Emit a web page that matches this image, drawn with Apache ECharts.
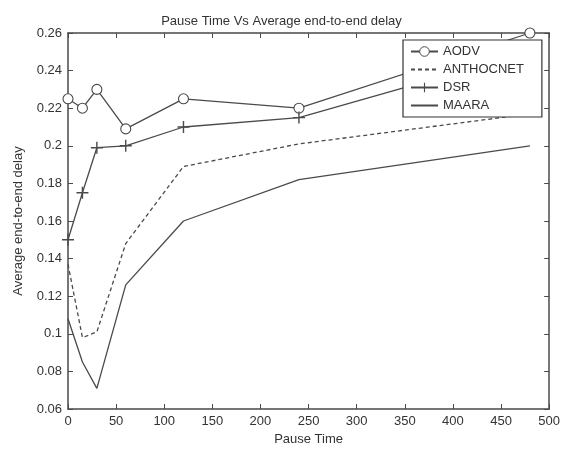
<!DOCTYPE html>
<html>
<head>
<meta charset="utf-8">
<script src="https://cdn.jsdelivr.net/npm/echarts@6/dist/echarts.min.js"></script>
<style>
html,body{margin:0;padding:0;background:#fff;}
#main{width:563px;height:451px;}
</style>
</head>
<body>
<div id="main"></div>
<script>
var pauseTime = [0, 15, 30, 60, 120, 240, 480];
var aodv      = [0.225, 0.220, 0.230, 0.209, 0.225, 0.220, 0.260];
var anthocnet = [0.137, 0.098, 0.101, 0.148, 0.189, 0.201, 0.217];
var dsr       = [0.150, 0.175, 0.199, 0.200, 0.210, 0.215, 0.250];
var maara     = [0.108, 0.085, 0.071, 0.126, 0.160, 0.182, 0.200];

function pairs(vals){
	var out = [];
	for(var i=0;i<vals.length;i++){
		out.push([pauseTime[i], vals[i]]);
	}
	return out;
}

var plusSym = 'path://M0,5.3H12V6.7H0Z M5.3,0H6.7V12H5.3Z';
var ink = '#4a4a4a';
var txt = '#333';
var fontFam = '"Liberation Sans", Arial, sans-serif';

var myChart = echarts.init(document.getElementById('main'));

function xAx(pos, labels){
	return {
		type: 'value', position: pos, min: 0, max: 500, interval: 50,
		name: labels ? 'Pause Time' : '', nameLocation: 'middle', nameGap: 24,
		nameTextStyle: {color: txt, fontSize: 13, fontFamily: fontFam},
		axisLine: {show: true, onZero: false, lineStyle: {color: ink, width: 1.5}},
		axisTick: {show: true, inside: true, length: 5, lineStyle: {color: ink}},
		axisLabel: {show: labels, color: txt, fontSize: 13, fontFamily: fontFam, margin: 6},
		splitLine: {show: false}
	};
}
function yAx(pos, labels){
	return {
		type: 'value', position: pos, min: 0.06, max: 0.26, interval: 0.02,
		name: labels ? 'Average end-to-end delay' : '', nameLocation: 'middle', nameGap: 43,
		nameTextStyle: {color: txt, fontSize: 13, fontFamily: fontFam},
		axisLine: {show: true, onZero: false, lineStyle: {color: ink, width: 1.5}},
		axisTick: {show: true, inside: true, length: 5, lineStyle: {color: ink}},
		axisLabel: {show: labels, color: txt, fontSize: 13, fontFamily: fontFam, margin: 6},
		splitLine: {show: false}
	};
}

// sym: 'ring' = hollow circle, 'none' = plain line, anything else = path symbol
function mkSeries(name, vals, sym, size, dashed){
	var noSym = (sym === 'none');
	var ring = (sym === 'ring');
	return {
		name: name, type: 'line', data: pairs(vals),
		xAxisIndex: 0, yAxisIndex: 0,
		symbol: (noSym || ring) ? 'circle' : sym,
		symbolSize: noSym ? 0 : size, showSymbol: !noSym,
		color: ink,
		itemStyle: {
			color: ring ? '#fff' : ink,
			borderColor: ink,
			borderWidth: ring ? 1.1 : 0,
			opacity: noSym ? 0 : 1
		},
		lineStyle: {color: ink, width: 1.3, type: dashed ? [4, 3] : 'solid', opacity: 1},
		emphasis: {disabled: true},
		clip: false,
		animation: false
	};
}

var option = {
	backgroundColor: '#fff',
	animation: false,
	title: {
		text: 'Pause Time Vs Average end-to-end delay',
		left: 'center', top: 10,
		textStyle: {color: txt, fontSize: 13, fontWeight: 'normal', fontFamily: fontFam}
	},
	grid: {left: 68, right: 12, top: 33, bottom: 39},
	legend: {
		orient: 'vertical', left: 403, top: 40,
		padding: [5, 18, 5, 7], itemGap: 5,
		itemWidth: 27, itemHeight: 12,
		backgroundColor: '#fff', borderColor: '#333', borderWidth: 1.2,
		textStyle: {color: txt, fontSize: 13, fontFamily: fontFam},
		data: [
			{name: 'AODV', itemStyle: {borderWidth: 1}},
			'ANTHOCNET', 'DSR', 'MAARA'
		]
	},
	xAxis: [xAx('bottom', true), xAx('top', false)],
	yAxis: [yAx('left', true), yAx('right', false)],
	series: [
		mkSeries('AODV', aodv, 'ring', 10, false),
		mkSeries('ANTHOCNET', anthocnet, 'none', 0, true),
		mkSeries('DSR', dsr, plusSym, 12, false),
		mkSeries('MAARA', maara, 'none', 0, false)
	]
};

myChart.setOption(option);
</script>
</body>
</html>
